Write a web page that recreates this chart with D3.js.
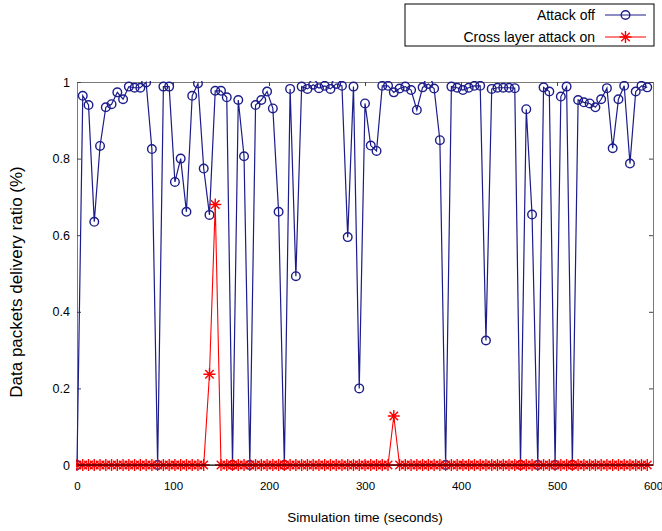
<!DOCTYPE html>
<html>
<head>
<meta charset="utf-8">
<script src="https://cdn.jsdelivr.net/npm/d3@7"></script>
<style>
    body { margin: 0; background: #fff; }
    svg { display: block; font-family: 'Liberation Sans', Arial, sans-serif; }
</style>
</head>
<body>
<div id="chart"></div>
<script>
// sample times (seconds), one every 6 s
var times = d3.range(0, 600, 6);

// Attack off - delivery ratio per sample
var attackOff = [
    0, 0.964, 0.94, 0.635, 0.833, 0.934, 0.942, 0.973, 0.955, 0.988,
    0.985, 0.985, 0.999, 0.825, 0, 0.988, 0.988, 0.739, 0.80, 0.661,
    0.964, 0.996, 0.774, 0.653, 0.977, 0.977, 0.96, 0, 0.953, 0.806,
    0, 0.94, 0.953, 0.975, 0.931, 0.661, 0, 0.982, 0.493, 0.988,
    0.982, 0.993, 0.984, 0.99, 0.982, 0.995, 0.99, 0.595, 0.988, 0.20,
    0.944, 0.834, 0.82, 0.99, 0.99, 0.973, 0.983, 0.988, 0.979, 0.927,
    0.986, 0.995, 0.983, 0.848, 0, 0.988, 0.985, 0.979, 0.985, 0.99,
    0.99, 0.325, 0.982, 0.985, 0.985, 0.985, 0.984, 0, 0.929, 0.654,
    0, 0.986, 0.975, 0, 0.962, 0.988, 0, 0.953, 0.947, 0.944,
    0.934, 0.955, 0.984, 0.827, 0.955, 0.99, 0.787, 0.975, 0.99, 0.986
];

// Cross layer attack on - zero except three spikes
var attackOn = times.map(function(t) {
    if (t === 138) return 0.237;
    if (t === 144) return 0.68;
    if (t === 330) return 0.128;
    return 0;
});

var xTicks = [0, 100, 200, 300, 400, 500, 600];
var yTicks = [0, 0.2, 0.4, 0.6, 0.8, 1];
var seriesNames = ['Attack off', 'Cross layer attack on'];
var seriesColors = ['#1c1c8a', '#ff0000'];

var width = 662, height = 531;
var margin = { top: 82, right: 9, bottom: 66, left: 77 };
var plotW = width - margin.left - margin.right;
var plotH = height - margin.top - margin.bottom;

var svg = d3.select('#chart').append('svg')
    .attr('width', width)
    .attr('height', height);

var x = d3.scaleLinear().domain([0, 600]).range([0, plotW]);
var y = d3.scaleLinear().domain([0, 1]).range([plotH, 0]);

svg.append('defs').append('clipPath')
    .attr('id', 'plotClip')
    .append('rect')
    .attr('x', -1)
    .attr('y', -1)
    .attr('width', plotW + 2)
    .attr('height', plotH + 8);

var g = svg.append('g')
    .attr('transform', 'translate(' + margin.left + ',' + margin.top + ')');

/* axes with inward ticks on all four sides */
var tickLen = 4;
var xAxis = g.append('g')
    .attr('transform', 'translate(0,' + plotH + ')')
    .call(d3.axisBottom(x).tickValues(xTicks).tickSizeInner(-tickLen).tickSizeOuter(0).tickPadding(17));
g.append('g')
    .call(d3.axisTop(x).tickValues(xTicks).tickSizeInner(-tickLen).tickSizeOuter(0).tickFormat(''));
var yAxis = g.append('g')
    .call(d3.axisLeft(y).tickValues(yTicks).tickSizeInner(-tickLen).tickSizeOuter(0).tickPadding(7)
        .tickFormat(function(d) { return d === 0 || d === 1 ? d : d3.format('.1f')(d); }));
g.append('g')
    .attr('transform', 'translate(' + plotW + ',0)')
    .call(d3.axisRight(y).tickValues(yTicks).tickSizeInner(-tickLen).tickSizeOuter(0).tickFormat(''));

g.selectAll('.domain').attr('stroke', '#7a7a7a');
g.selectAll('.tick line').attr('stroke', '#444');
g.selectAll('.tick text')
    .attr('font-family', "'Liberation Sans', Arial, sans-serif")
    .attr('fill', '#000');
xAxis.selectAll('.tick text').attr('font-size', 11.5);
yAxis.selectAll('.tick text').attr('font-size', 12.5);

var line = d3.line()
    .x(function(d) { return x(d[0]); })
    .y(function(d) { return y(d[1]); });

var offData = times.map(function(t, i) { return [t, attackOff[i]]; });
var onData = times.map(function(t, i) { return [t, attackOn[i]]; });

var plot = g.append('g').attr('clip-path', 'url(#plotClip)');

// Attack off
plot.append('path')
    .datum(offData)
    .attr('fill', 'none')
    .attr('stroke', seriesColors[0])
    .attr('stroke-width', 1.2)
    .attr('d', line);

plot.selectAll('circle.off')
    .data(offData)
    .enter()
    .append('circle')
    .attr('class', 'off')
    .attr('cx', function(d) { return x(d[0]); })
    .attr('cy', function(d) { return y(d[1]); })
    .attr('r', 4.3)
    .attr('fill', 'none')
    .attr('stroke', seriesColors[0])
    .attr('stroke-width', 1.4);

// Cross layer attack on
plot.append('path')
    .datum(onData)
    .attr('fill', 'none')
    .attr('stroke', seriesColors[1])
    .attr('stroke-width', 1.1)
    .attr('d', line);

function starPath(s) {
    var d = s * 0.7071;
    return 'M' + (-s) + ',0L' + s + ',0M0,' + (-s) + 'L0,' + s +
        'M' + (-d) + ',' + (-d) + 'L' + d + ',' + d +
        'M' + (-d) + ',' + d + 'L' + d + ',' + (-d);
}

plot.selectAll('path.on')
    .data(onData)
    .enter()
    .append('path')
    .attr('class', 'on')
    .attr('transform', function(d) { return 'translate(' + x(d[0]) + ',' + y(d[1]) + ')'; })
    .attr('d', starPath(6))
    .attr('stroke', seriesColors[1])
    .attr('stroke-width', 1.4);

// bottom axis line drawn black over the markers
g.append('line')
    .attr('x1', 0).attr('x2', plotW)
    .attr('y1', plotH).attr('y2', plotH)
    .attr('stroke', '#000')
    .attr('stroke-width', 1.2);

/* axis labels */
svg.append('text')
    .attr('x', margin.left + plotW / 2)
    .attr('y', 522)
    .attr('text-anchor', 'middle')
    .attr('font-size', 13.5)
    .text('Simulation time (seconds)');

svg.append('text')
    .attr('transform', 'translate(22,282) rotate(-90)')
    .attr('text-anchor', 'middle')
    .attr('font-size', 17)
    .text('Data packets delivery ratio (%)');

/* legend */
var legend = svg.append('g').attr('transform', 'translate(405,4)');
legend.append('rect')
    .attr('width', 249)
    .attr('height', 42)
    .attr('fill', '#fff')
    .attr('stroke', '#000')
    .attr('stroke-width', 1);

var items = legend.selectAll('g.item')
    .data(seriesNames)
    .enter()
    .append('g')
    .attr('class', 'item')
    .attr('transform', function(d, i) { return 'translate(0,' + (11 + i * 22) + ')'; });

items.append('text')
    .attr('x', 190)
    .attr('dy', '0.35em')
    .attr('text-anchor', 'end')
    .attr('font-size', 14)
    .text(function(d) { return d; });

items.append('line')
    .attr('x1', 200).attr('x2', 241)
    .attr('stroke', function(d, i) { return seriesColors[i]; })
    .attr('stroke-width', 1.2);

legend.append('circle')
    .attr('cx', 220.5).attr('cy', 11).attr('r', 4.3)
    .attr('fill', 'none')
    .attr('stroke', seriesColors[0])
    .attr('stroke-width', 1.4);

legend.append('path')
    .attr('transform', 'translate(220.5,33)')
    .attr('d', starPath(6))
    .attr('stroke', seriesColors[1])
    .attr('stroke-width', 1.4);
</script>
</body>
</html>
